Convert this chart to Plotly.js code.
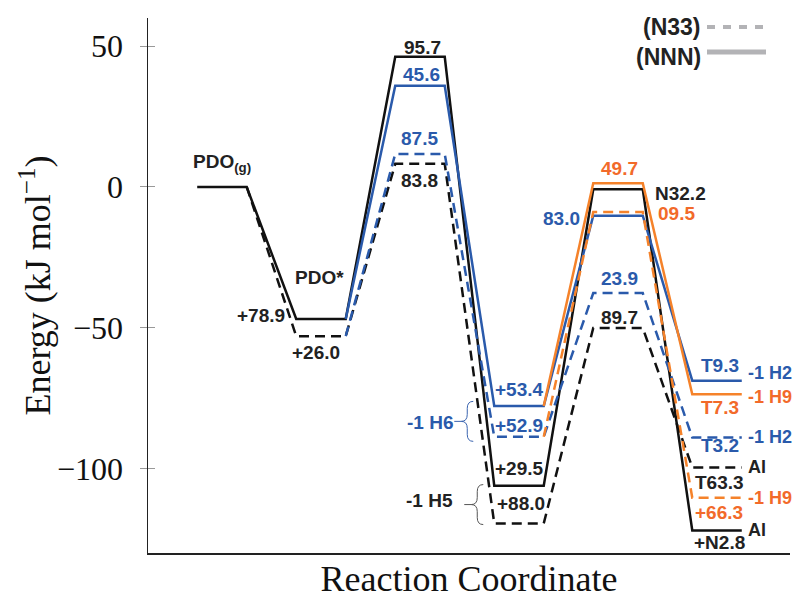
<!DOCTYPE html>
<html>
<head>
<meta charset="utf-8">
<script src="https://cdn.plot.ly/plotly-3.0.1.min.js"></script>
<style>html,body{margin:0;padding:0;background:#fff;}#chart{width:795px;height:599px;}</style>
</head>
<body>
<div id="chart"></div>
<script>
// Reaction steps (x positions of energy levels)
const steps = [0, 1, 2, 3, 4, 5];
// Energies (kJ/mol) per step; null = branch not present
const nnnBlack  = [0, -46.9, 46.2, -106.1, -0.8, -122.0];
const n33Black  = [0, -53.0, 8.2, -119.5, -50.1, -99.6];
const nnnBlue   = [null, -46.9, 35.9, -77.8, -10.2, -68.8];
const n33Blue   = [null, -53.0, 11.7, -88.7, -37.7, -89.0];
const nnnOrange = [null, null, null, -77.8, 1.3, -73.6];
const n33Orange = [null, null, null, -88.7, -8.9, -110.4];
// y ticks
const yTickVals = [-100, -50, 0, 50];
const yTickText = ["\u2212100", "\u221250", "0", "50"];
// Level labels
const labelTexts = ["PDO<sub>(g)</sub>", "PDO*", "+78.9", "+26.0", "95.7", "45.6", "87.5", "83.8",
  "49.7", "N32.2", "09.5", "83.0", "23.9", "89.7", "+53.4", "+52.9", "-1 H6", "+29.5", "+88.0", "-1 H5",
  "T9.3", "-1 H2", "T7.3", "-1 H9", "T3.2", "-1 H2", "Al", "T63.3", "-1 H9", "+66.3", "Al", "+N2.8"];
const labelX = [0.0, 0.98, 0.394, 0.95, 2.03, 2.02, 1.99, 2.0,
  4.02, 4.63, 4.59, 3.43, 4.01, 4.01, 3.0, 3.0, 2.10, 3.0, 3.02, 2.10,
  5.03, 5.293, 5.03, 5.293, 5.03, 5.293, 5.293, 5.02, 5.293, 5.02, 5.293, 5.02];
const labelY = [8.4, -32.1, -45.6, -58.7, 49.6, 40.0, 17.3, 2.4,
  6.7, -2.2, -9.3, -11.1, -32.4, -46.3, -71.9, -84.7, -83.6, -99.9, -112.4, -111.3,
  -63.4, -66.2, -78.3, -74.7, -91.8, -88.9, -99.6, -104.9, -110.6, -115.5, -121.9, -126.2];
const labelColor = ["k","k","k","k","k","b","b","k",
  "o","k","o","b","b","k","b","b","b","k","k","k",
  "b","b","o","o","b","b","k","k","o","o","k","k"];
const labelAnchor = ["center","center","center","center","center","center","center","center",
  "center","center","center","center","center","center","center","center","center","center","center","center",
  "center","left","center","left","center","left","left","center","left","center","left","center"];
// Legend entries
const legendNames = ["(N33)", "(NNN)"];
const yTitle = "Energy (kJ mol<sup>\u22121</sup>)";
const xTitle = "Reaction Coordinate";

const COLORS = {k: "#111111", b: "#2a5aab", o: "#f5822a"};
const TEXTCOL = {k: "#222222", b: "#2a5aab", o: "#f26a2a"};
const hw = 0.25;
const SERIF = "Liberation Serif, Times New Roman, serif";
const SANS = "Liberation Sans, Arial, sans-serif";

function levelPath(vals, fullFirst) {
  const xs = [], ys = [];
  let first = true;
  for (let i = 0; i < steps.length; i++) {
    if (vals[i] === null) continue;
    if (!first || fullFirst) { xs.push(steps[i] - hw); ys.push(vals[i]); }
    xs.push(steps[i] + hw); ys.push(vals[i]);
    first = false;
  }
  return {x: xs, y: ys};
}

function trace(vals, fullFirst, color, dashed) {
  const p = levelPath(vals, fullFirst);
  return {x: p.x, y: p.y, type: "scatter", mode: "lines", showlegend: false, hoverinfo: "skip",
    line: {color: color, width: 2.5, dash: dashed ? "10px,6px" : "solid"}};
}

const data = [
  trace(n33Black, false, COLORS.k, true),
  trace(nnnBlack, true, COLORS.k, false),
  trace(n33Blue, false, COLORS.b, true),
  trace(nnnBlue, false, COLORS.b, false),
  trace(n33Orange, false, COLORS.o, true),
  trace(nnnOrange, false, COLORS.o, false),
  {x: [steps[0]], y: [0], type: "scatter", mode: "markers", yaxis: "y2", marker: {opacity: 0}, showlegend: false, hoverinfo: "skip"},
  {x: [steps[0]], y: [0], type: "scatter", mode: "markers", yaxis: "y3", marker: {opacity: 0}, showlegend: false, hoverinfo: "skip"}
];

const annotations = labelTexts.map((t, i) => ({
  text: t, x: labelX[i], y: labelY[i], xref: "x", yref: "y", showarrow: false,
  xanchor: labelAnchor[i], yanchor: "middle",
  font: {family: SANS, size: labelAnchor[i] === "left" ? 18 : 19, weight: 700, color: TEXTCOL[labelColor[i]]}
}));
annotations.push({text: legendNames[0], xref: "paper", yref: "paper", x: (703-148)/642, y: (553-27)/535,
  xanchor: "right", yanchor: "middle", showarrow: false,
  font: {family: SANS, size: 23, weight: 700, color: "#222"}});
annotations.push({text: legendNames[1], xref: "paper", yref: "paper", x: (703-148)/642, y: (553-57)/535,
  xanchor: "right", yanchor: "middle", showarrow: false,
  font: {family: SANS, size: 23, weight: 700, color: "#222"}});
// y-axis title as rotated annotation
annotations.push({text: yTitle, xref: "paper", yref: "paper", x: (35-148)/642, y: 0.5,
  xanchor: "center", yanchor: "middle", textangle: -90, showarrow: false,
  font: {family: SERIF, size: 36, color: "#111"}});

function braceAt(tipX, h, depth) {
  const b = tipX + depth, e = tipX + depth * 2;
  return `M ${e},${h} Q ${b},${h} ${b},${h-7} L ${b},7 Q ${b},0 ${tipX},0 Q ${b},0 ${b},-7 L ${b},${-h+7} Q ${b},${-h} ${e},${-h}`;
}

const shapes = [
  {type: "line", xref: "paper", yref: "paper", x0: (707-148)/642, x1: (766-148)/642,
   y0: (553-27)/535, y1: (553-27)/535, line: {color: "#b3b3b6", width: 4, dash: "8px,8px"}},
  {type: "line", xref: "paper", yref: "paper", x0: (707-148)/642, x1: (766-148)/642,
   y0: (553-52)/535, y1: (553-52)/535, line: {color: "#b3b3b6", width: 5}},
  {type: "path", xref: "x", yref: "y", xsizemode: "pixel", ysizemode: "pixel",
   xanchor: steps[3] - hw, yanchor: (nnnBlue[3] + n33Blue[3]) / 2,
   path: braceAt(-33, 20, 6), line: {color: "#3a64b0", width: 1}},
  {type: "path", xref: "x", yref: "y", xsizemode: "pixel", ysizemode: "pixel",
   xanchor: steps[3] - hw, yanchor: (nnnBlue[3] + n33Blue[3]) / 2,
   path: "M -40,0 L -33,0", line: {color: "#3a64b0", width: 1}},
  {type: "path", xref: "x", yref: "y", xsizemode: "pixel", ysizemode: "pixel",
   xanchor: steps[3] - hw, yanchor: (nnnBlack[3] + n33Black[3]) / 2,
   path: braceAt(-23, 20, 6), line: {color: "#555", width: 1}},
  {type: "path", xref: "x", yref: "y", xsizemode: "pixel", ysizemode: "pixel",
   xanchor: steps[3] - hw, yanchor: (nnnBlack[3] + n33Black[3]) / 2,
   path: "M -30,0 L -23,0", line: {color: "#555", width: 1}}
];

const layout = {
  width: 795, height: 599,
  margin: {l: 148, r: 5, t: 18, b: 46},
  paper_bgcolor: "#fff", plot_bgcolor: "#fff",
  showlegend: false,
  xaxis: {range: [-0.747, 5.737], showgrid: false, zeroline: false, showticklabels: false, ticks: "",
    showline: true, linecolor: "#222", linewidth: 1.5,
    title: {text: xTitle, standoff: 18, font: {family: SERIF, size: 36, color: "#111"}}},
  yaxis: {range: [-130, 60], showgrid: false, zeroline: false, tickvals: yTickVals, ticktext: yTickText,
    ticks: "outside", ticklen: 17, tickcolor: "rgba(0,0,0,0)", tickwidth: 1,
    tickfont: {family: SERIF, size: 32, color: "#111"},
    showline: true, linecolor: "#222", linewidth: 1.5},
  yaxis2: {range: [-130, 60], overlaying: "y", side: "left", showgrid: false, zeroline: false,
    tickvals: yTickVals, showticklabels: false, ticks: "inside", ticklen: 7, tickcolor: "#999", tickwidth: 1, showline: false},
  yaxis3: {range: [-130, 60], overlaying: "y", side: "left", showgrid: false, zeroline: false,
    tickvals: yTickVals, showticklabels: false, ticks: "outside", ticklen: 7, tickcolor: "#999", tickwidth: 1, showline: false},
  annotations: annotations,
  shapes: shapes
};

Plotly.newPlot("chart", data, layout, {displayModeBar: false, staticPlot: true});
</script>
</body>
</html>
